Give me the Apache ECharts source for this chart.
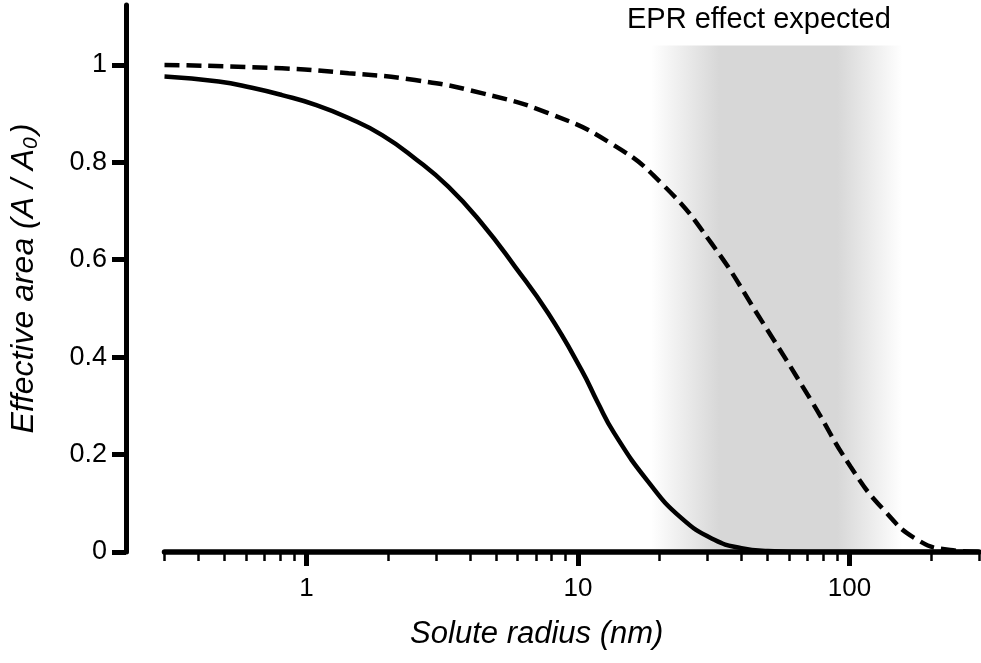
<!DOCTYPE html>
<html><head><meta charset="utf-8">
<script src="https://cdn.jsdelivr.net/npm/echarts@6/dist/echarts.min.js"></script>
<style>html,body{margin:0;padding:0;background:#fff}#c{width:981px;height:663px}</style>
</head><body><div id="c"></div>
<script>
const xMajorTicks = [1, 10, 100];
const xMinorTicks = [0.3,0.4,0.5,0.6,0.7,0.8,0.9,2,3,4,5,6,7,8,9,20,30,40,50,60,70,80,90,200,300];
const yTicks = [0, 0.2, 0.4, 0.6, 0.8, 1];
const solidRadius = [0.3,0.475,0.63,0.813,1.08,1.43,1.90,2.51,3.33,4.42,5.86,7.77,10.3,11.8,13.6,18.1,24,31.8,40,50,70,300];
const solidArea   = [0.976,0.966,0.953,0.938,0.918,0.891,0.856,0.808,0.750,0.675,0.586,0.490,0.374,0.308,0.244,0.145,0.070,0.025,0.008,0.002,0,0];
const dashedRadius = [0.3,0.813,1.43,2.51,4.42,7.77,13.3,20.3,31.0,47.3,72.1,101,134,178,235,300];
const dashedArea   = [1.0,0.993,0.983,0.969,0.942,0.901,0.838,0.757,0.634,0.476,0.312,0.175,0.086,0.025,0.004,0];
const eprRange = [18.6, 157];
const eprTop = 1.04;
const eprLabel = 'EPR effect expected';

const font = '"Liberation Sans", Arial, Helvetica, sans-serif';
const chart = echarts.init(document.getElementById('c'));
const option = {
  animation: false,
  backgroundColor: '#fff',
  title: {
    text: eprLabel, left: 622, top: 0,
    textStyle: { fontFamily: font, fontSize: 29, fontWeight: 'normal', color: '#000' }
  },
  grid: { left: 163, right: 2, top: 5, bottom: 111, containLabel: false },
  xAxis: [
    {
      type: 'log', logBase: 10, min: 0.3, max: 300, position: 'bottom', z: 10,
      axisLine: { show: true, lineStyle: { color: '#000', width: 5.5 } },
      axisTick: { show: true, customValues: xMajorTicks, length: 14, lineStyle: { color: '#000', width: 5 } },
      axisLabel: { customValues: xMajorTicks, margin: 24, fontSize: 26, color: '#000', fontFamily: font,
                   formatter: v => String(v) },
      splitLine: { show: false }, minorTick: { show: false },
      name: 'Solute radius (nm)', nameLocation: 'middle', nameGap: 67,
      nameTextStyle: { fontFamily: font, fontSize: 31, fontStyle: 'italic', color: '#000', padding: [0, 70, 0, 0] }
    },
    {
      type: 'log', logBase: 10, min: 0.3, max: 300, position: 'bottom', z: 10,
      axisLine: { show: false },
      axisTick: { show: true, customValues: xMinorTicks, length: 9, lineStyle: { color: '#000', width: 2.5 } },
      axisLabel: { show: false }, splitLine: { show: false }
    }
  ],
  yAxis: {
    type: 'value', min: 0, max: 1.123, offset: 38.5, z: 10,
    axisLine: { show: true, lineStyle: { color: '#000', width: 5 } },
    axisTick: { show: true, customValues: yTicks, length: 14, lineStyle: { color: '#000', width: 5 } },
    axisLabel: { customValues: yTicks, margin: 19, fontSize: 27, color: '#000', fontFamily: font,
                 formatter: v => String(v) },
    splitLine: { show: false },
    name: '{a|Effective area (A / A}{b|0}{a|)}', nameLocation: 'middle', nameGap: 84,
    nameTextStyle: {
      fontFamily: font, fontSize: 32, fontStyle: 'italic', color: '#000',
      rich: {
        a: { fontFamily: font, fontSize: 32, fontStyle: 'italic', color: '#000', lineHeight: 36 },
        b: { fontFamily: font, fontSize: 21, fontStyle: 'italic', color: '#000', lineHeight: 36, verticalAlign: 'bottom', padding: [0, 3, 0, 0] }
      }
    }
  },
  series: [
    {
      type: 'line', data: [], z: 1, silent: true,
      markArea: {
        silent: true,
        itemStyle: {
          color: new echarts.graphic.LinearGradient(0, 0, 1, 0, [
            { offset: 0, color: 'rgba(215,215,215,0)' },
            { offset: 0.27, color: '#d7d7d7' },
            { offset: 0.74, color: '#d7d7d7' },
            { offset: 1, color: 'rgba(215,215,215,0)' }
          ])
        },
        data: [[{ xAxis: eprRange[0], yAxis: 0 }, { xAxis: eprRange[1], yAxis: eprTop }]]
      }
    },
    {
      type: 'line', z: 3, showSymbol: false, smooth: 0.5,
      data: solidRadius.map((r, i) => [r, solidArea[i]]),
      lineStyle: { color: '#000', width: 4.5 }
    },
    {
      type: 'line', z: 3, showSymbol: false, smooth: 0.5,
      data: dashedRadius.map((r, i) => [r, dashedArea[i]]),
      lineStyle: { color: '#000', width: 4.5, type: [15, 7], cap: 'butt' }
    }
  ]
};
chart.setOption(option);
</script></body></html>
